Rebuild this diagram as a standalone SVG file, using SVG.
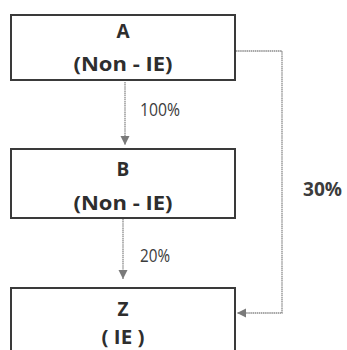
<svg xmlns="http://www.w3.org/2000/svg" width="347" height="350" viewBox="0 0 347 350">
<defs>
<style>
.box{fill:#fff;stroke:#3a3a3a;stroke-width:2}
.t{font-family:"Open Sans","Liberation Sans",Arial,sans-serif;font-weight:bold;font-size:19px;fill:#2e2e2e;text-anchor:middle}
.lbl{font-family:"Open Sans","Liberation Sans",Arial,sans-serif;font-size:19px;fill:#3c3c3c}
.conn{fill:none;stroke:#8a8a8a;stroke-width:1.3;stroke-dasharray:1.5 0.6}
</style>
<marker id="ah" markerWidth="10" markerHeight="10" refX="9" refY="5" orient="auto" markerUnits="userSpaceOnUse">
<path d="M0,0.5 L9,5 L0,9.5 Z" fill="#7a7a7a"/>
</marker>
</defs>
<rect width="347" height="350" fill="#fff"/>
<g id="connectors">
<line class="conn" x1="125" y1="82" x2="125" y2="145" marker-end="url(#ah)"/>
<line class="conn" x1="123" y1="219" x2="123" y2="279" marker-end="url(#ah)"/>
<polyline class="conn" points="236,51 282,51 282,313 237,313" marker-end="url(#ah)"/>
<text class="lbl" x="140" y="116" textLength="40" lengthAdjust="spacingAndGlyphs">100%</text>
<text class="lbl" x="140" y="262" textLength="30" lengthAdjust="spacingAndGlyphs">20%</text>
<text class="lbl" x="303" y="196" font-weight="bold" fill="#333" textLength="39" lengthAdjust="spacingAndGlyphs">30%</text>
</g>
<g id="nodeA">
<rect class="box" x="11" y="15" width="224" height="65"/>
<text class="t" x="123" y="38">A</text>
<text class="t" x="123" y="71" textLength="99" lengthAdjust="spacingAndGlyphs">(Non - IE)</text>
</g>
<g id="nodeB">
<rect class="box" x="11" y="149" width="224" height="69"/>
<text class="t" x="123" y="176">B</text>
<text class="t" x="123" y="210" textLength="99" lengthAdjust="spacingAndGlyphs">(Non - IE)</text>
</g>
<g id="nodeZ">
<rect class="box" x="11" y="288" width="224" height="80"/>
<text class="t" x="123" y="316">Z</text>
<text class="t" x="123" y="344" textLength="43" lengthAdjust="spacingAndGlyphs">( IE )</text>
</g>
</svg>
